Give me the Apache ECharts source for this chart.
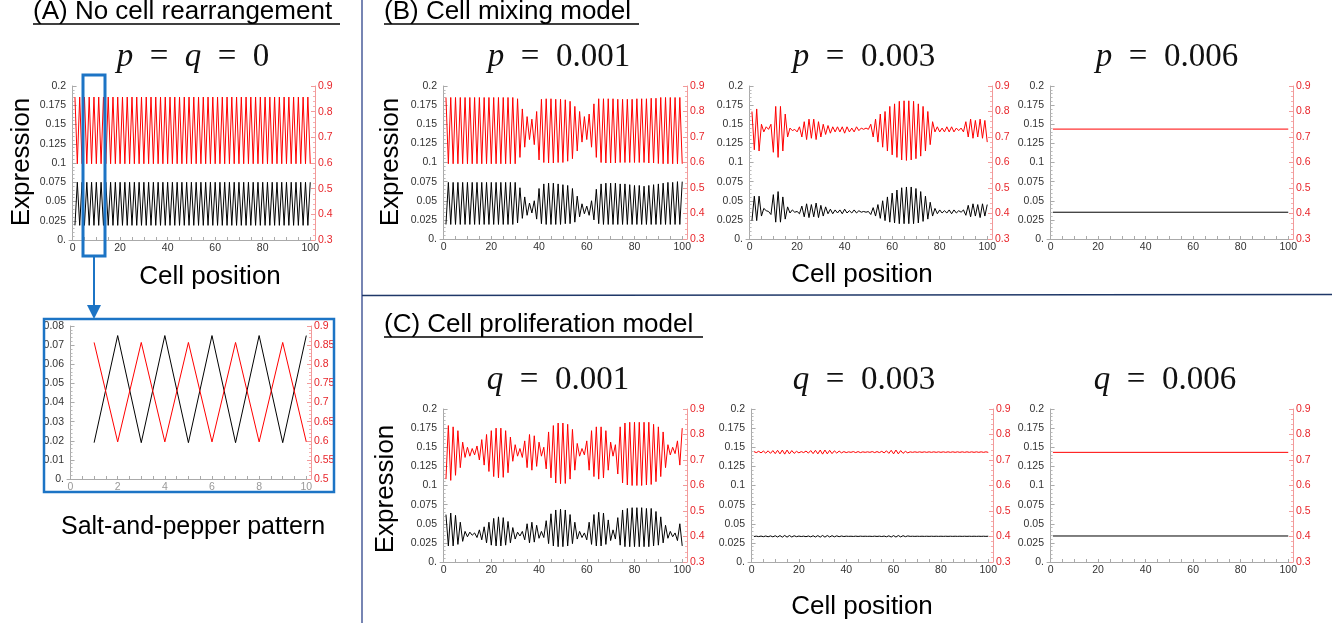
<!DOCTYPE html>
<html>
<head>
<meta charset="utf-8">
<script src="https://cdn.jsdelivr.net/npm/echarts@6/dist/echarts.min.js"></script>
<style>
  html, body { margin: 0; padding: 0; background: #fff; }
  #chart { width: 1342px; height: 623px; }
</style>
</head>
<body>
<div id="chart"></div>
<script>
// tick labels
const cellTicks = [0, 20, 40, 60, 80, 100]
const cellMinorTicks = [0, 5, 10, 15, 20, 25, 30, 35, 40, 45, 50, 55, 60, 65, 70, 75, 80, 85, 90, 95, 100]
const zoomCellTicks = [0, 2, 4, 6, 8, 10]
const zoomCellMinorTicks = [0, 0.5, 1, 1.5, 2, 2.5, 3, 3.5, 4, 4.5, 5, 5.5, 6, 6.5, 7, 7.5, 8, 8.5, 9, 9.5, 10]
const blackTicks = [0, 0.025, 0.05, 0.075, 0.1, 0.125, 0.15, 0.175, 0.2]
const redTicks = [0.3, 0.4, 0.5, 0.6, 0.7, 0.8, 0.9]
const zoomBlackTicks = [0, 0.01, 0.02, 0.03, 0.04, 0.05, 0.06, 0.07, 0.08]
const zoomRedTicks = [0.5, 0.55, 0.6, 0.65, 0.7, 0.75, 0.8, 0.85, 0.9]

// (A) no rearrangement, cells 1..100
const noRearrBlack = [
  0.019, 0.075, 0.019, 0.075, 0.019, 0.075, 0.019, 0.075, 0.019, 0.075,
  0.019, 0.075, 0.019, 0.075, 0.019, 0.075, 0.019, 0.075, 0.019, 0.075,
  0.019, 0.075, 0.019, 0.075, 0.019, 0.075, 0.019, 0.075, 0.019, 0.075,
  0.019, 0.075, 0.019, 0.075, 0.019, 0.075, 0.019, 0.075, 0.019, 0.075,
  0.019, 0.075, 0.019, 0.075, 0.019, 0.075, 0.019, 0.075, 0.019, 0.075,
  0.019, 0.075, 0.019, 0.075, 0.019, 0.075, 0.019, 0.075, 0.019, 0.075,
  0.019, 0.075, 0.019, 0.075, 0.019, 0.075, 0.019, 0.075, 0.019, 0.075,
  0.019, 0.075, 0.019, 0.075, 0.019, 0.075, 0.019, 0.075, 0.019, 0.075,
  0.019, 0.075, 0.019, 0.075, 0.019, 0.075, 0.019, 0.075, 0.019, 0.075,
  0.019, 0.075, 0.019, 0.075, 0.019, 0.075, 0.019, 0.075, 0.019, 0.075
]
const noRearrRed = [
  0.857, 0.597, 0.857, 0.597, 0.857, 0.597, 0.857, 0.597, 0.857, 0.597,
  0.857, 0.597, 0.857, 0.597, 0.857, 0.597, 0.857, 0.597, 0.857, 0.597,
  0.857, 0.597, 0.857, 0.597, 0.857, 0.597, 0.857, 0.597, 0.857, 0.597,
  0.857, 0.597, 0.857, 0.597, 0.857, 0.597, 0.857, 0.597, 0.857, 0.597,
  0.857, 0.597, 0.857, 0.597, 0.857, 0.597, 0.857, 0.597, 0.857, 0.597,
  0.857, 0.597, 0.857, 0.597, 0.857, 0.597, 0.857, 0.597, 0.857, 0.597,
  0.857, 0.597, 0.857, 0.597, 0.857, 0.597, 0.857, 0.597, 0.857, 0.597,
  0.857, 0.597, 0.857, 0.597, 0.857, 0.597, 0.857, 0.597, 0.857, 0.597,
  0.857, 0.597, 0.857, 0.597, 0.857, 0.597, 0.857, 0.597, 0.857, 0.597,
  0.857, 0.597, 0.857, 0.597, 0.857, 0.597, 0.857, 0.597, 0.857, 0.597
]

// (B) cell mixing
const mixP001Black = [
  0.019, 0.074, 0.019, 0.074, 0.019, 0.074, 0.019, 0.074, 0.019, 0.074,
  0.019, 0.074, 0.019, 0.074, 0.019, 0.074, 0.019, 0.074, 0.019, 0.074,
  0.019, 0.074, 0.019, 0.074, 0.019, 0.074, 0.019, 0.074, 0.019, 0.074,
  0.021, 0.067, 0.027, 0.055, 0.031, 0.047, 0.034, 0.05, 0.026, 0.066,
  0.02, 0.072, 0.019, 0.073, 0.019, 0.073, 0.019, 0.072, 0.019, 0.071,
  0.02, 0.07, 0.02, 0.066, 0.022, 0.056, 0.029, 0.046, 0.033, 0.043,
  0.031, 0.05, 0.025, 0.065, 0.02, 0.072, 0.019, 0.073, 0.019, 0.073,
  0.019, 0.073, 0.019, 0.072, 0.019, 0.072, 0.019, 0.071, 0.019, 0.07,
  0.019, 0.07, 0.019, 0.069, 0.019, 0.07, 0.019, 0.071, 0.019, 0.072,
  0.019, 0.073, 0.019, 0.074, 0.019, 0.074, 0.019, 0.075, 0.019, 0.075
]
const mixP001Red = [
  0.855, 0.595, 0.855, 0.595, 0.855, 0.595, 0.855, 0.595, 0.855, 0.595,
  0.855, 0.595, 0.855, 0.595, 0.855, 0.595, 0.855, 0.595, 0.855, 0.595,
  0.855, 0.595, 0.855, 0.595, 0.855, 0.595, 0.855, 0.595, 0.855, 0.595,
  0.85, 0.62, 0.81, 0.66, 0.78, 0.69, 0.77, 0.67, 0.8, 0.61,
  0.848, 0.6, 0.85, 0.598, 0.85, 0.598, 0.848, 0.6, 0.848, 0.6,
  0.846, 0.605, 0.84, 0.615, 0.82, 0.645, 0.8, 0.68, 0.78, 0.69,
  0.79, 0.66, 0.83, 0.62, 0.85, 0.6, 0.85, 0.598, 0.85, 0.598,
  0.85, 0.598, 0.848, 0.6, 0.848, 0.6, 0.848, 0.6, 0.848, 0.6,
  0.85, 0.6, 0.85, 0.6, 0.85, 0.598, 0.852, 0.598, 0.852, 0.596,
  0.855, 0.595, 0.855, 0.595, 0.855, 0.595, 0.855, 0.595, 0.855, 0.595
]
const mixP003Black = [
  0.024, 0.056, 0.024, 0.056, 0.03, 0.04, 0.037, 0.036, 0.032, 0.058,
  0.022, 0.062, 0.022, 0.055, 0.026, 0.042, 0.034, 0.038, 0.035, 0.036,
  0.033, 0.043, 0.029, 0.046, 0.028, 0.045, 0.029, 0.047, 0.028, 0.044,
  0.03, 0.042, 0.033, 0.039, 0.033, 0.038, 0.034, 0.038, 0.033, 0.039,
  0.034, 0.037, 0.034, 0.038, 0.034, 0.037, 0.035, 0.036, 0.035, 0.036,
  0.032, 0.041, 0.03, 0.045, 0.027, 0.05, 0.024, 0.055, 0.022, 0.06,
  0.021, 0.064, 0.02, 0.067, 0.02, 0.068, 0.02, 0.068, 0.02, 0.066,
  0.021, 0.062, 0.023, 0.056, 0.026, 0.048, 0.03, 0.04, 0.033, 0.038,
  0.034, 0.037, 0.034, 0.038, 0.033, 0.038, 0.034, 0.037, 0.035, 0.038,
  0.031, 0.044, 0.029, 0.046, 0.03, 0.045, 0.028, 0.046, 0.03, 0.045
]
const mixP003Red = [
  0.8, 0.65, 0.81, 0.645, 0.75, 0.72, 0.74, 0.73, 0.75, 0.64,
  0.82, 0.62, 0.82, 0.645, 0.79, 0.7, 0.735, 0.725, 0.73, 0.72,
  0.74, 0.7, 0.76, 0.69, 0.77, 0.695, 0.77, 0.69, 0.76, 0.7,
  0.75, 0.71, 0.745, 0.715, 0.74, 0.72, 0.74, 0.72, 0.74, 0.715,
  0.74, 0.72, 0.735, 0.72, 0.74, 0.725, 0.735, 0.73, 0.735, 0.73,
  0.75, 0.7, 0.77, 0.68, 0.79, 0.66, 0.8, 0.645, 0.82, 0.63,
  0.83, 0.62, 0.84, 0.61, 0.842, 0.608, 0.842, 0.61, 0.84, 0.615,
  0.83, 0.625, 0.82, 0.645, 0.8, 0.67, 0.76, 0.72, 0.74, 0.72,
  0.735, 0.72, 0.74, 0.72, 0.74, 0.72, 0.735, 0.725, 0.735, 0.72,
  0.76, 0.7, 0.77, 0.695, 0.765, 0.7, 0.77, 0.695, 0.765, 0.68
]
const mixP006Black = [[1, 0.035], [100, 0.035]]
const mixP006Red = [[1, 0.731], [100, 0.731]]

// (C) cell proliferation
const prolQ001Black = [
  0.062, 0.021, 0.064, 0.021, 0.061, 0.023, 0.052, 0.027, 0.04, 0.033,
  0.039, 0.035, 0.038, 0.032, 0.042, 0.029, 0.046, 0.025, 0.052, 0.022,
  0.057, 0.021, 0.059, 0.021, 0.058, 0.022, 0.053, 0.025, 0.045, 0.03,
  0.039, 0.034, 0.04, 0.029, 0.05, 0.025, 0.052, 0.026, 0.048, 0.031,
  0.04, 0.032, 0.054, 0.024, 0.063, 0.021, 0.068, 0.02, 0.069, 0.02,
  0.068, 0.021, 0.062, 0.024, 0.052, 0.03, 0.04, 0.032, 0.038, 0.029,
  0.052, 0.023, 0.062, 0.021, 0.065, 0.021, 0.064, 0.023, 0.055, 0.028,
  0.042, 0.03, 0.058, 0.022, 0.068, 0.02, 0.07, 0.02, 0.071, 0.02,
  0.071, 0.02, 0.071, 0.02, 0.07, 0.02, 0.07, 0.021, 0.066, 0.022,
  0.059, 0.025, 0.048, 0.031, 0.04, 0.033, 0.038, 0.028, 0.05, 0.021
]
const prolQ001Red = [
  0.625, 0.835, 0.62, 0.83, 0.64, 0.815, 0.67, 0.77, 0.71, 0.75,
  0.715, 0.745, 0.72, 0.755, 0.7, 0.78, 0.68, 0.8, 0.655, 0.815,
  0.635, 0.825, 0.63, 0.825, 0.632, 0.815, 0.65, 0.79, 0.695, 0.76,
  0.715, 0.745, 0.71, 0.775, 0.67, 0.8, 0.66, 0.795, 0.675, 0.77,
  0.715, 0.75, 0.665, 0.81, 0.63, 0.835, 0.61, 0.845, 0.607, 0.845,
  0.608, 0.84, 0.625, 0.82, 0.66, 0.765, 0.715, 0.745, 0.72, 0.775,
  0.66, 0.815, 0.635, 0.83, 0.625, 0.83, 0.63, 0.815, 0.66, 0.77,
  0.715, 0.76, 0.645, 0.83, 0.61, 0.845, 0.602, 0.848, 0.6, 0.848,
  0.6, 0.848, 0.6, 0.848, 0.602, 0.848, 0.604, 0.84, 0.615, 0.83,
  0.635, 0.81, 0.67, 0.76, 0.72, 0.75, 0.725, 0.775, 0.68, 0.825
]
const prolQ003Black = [
  0.0333, 0.0338, 0.0332, 0.0339, 0.0331, 0.034, 0.033, 0.0341, 0.0329, 0.0343,
  0.0327, 0.0345, 0.0325, 0.0347, 0.0325, 0.0346, 0.0327, 0.0343, 0.0331, 0.0339,
  0.0333, 0.0338, 0.0331, 0.034, 0.0329, 0.0343, 0.0327, 0.0345, 0.0325, 0.0347,
  0.0325, 0.0346, 0.0327, 0.0344, 0.0329, 0.0342, 0.0331, 0.034, 0.0333, 0.0338,
  0.0335, 0.0337, 0.0334, 0.0338, 0.0334, 0.0338, 0.0335, 0.0337, 0.0335, 0.0337,
  0.0334, 0.0338, 0.0334, 0.0338, 0.0333, 0.0339, 0.033, 0.0342, 0.0327, 0.0345,
  0.0326, 0.0346, 0.0328, 0.0344, 0.0331, 0.0341, 0.0335, 0.0337, 0.0335, 0.0337,
  0.0335, 0.0337, 0.0335, 0.0337, 0.0335, 0.0337, 0.0335, 0.0337, 0.0335, 0.0337,
  0.0335, 0.0337, 0.0335, 0.0337, 0.0335, 0.0337, 0.0335, 0.0337, 0.0335, 0.0337,
  0.0335, 0.0337, 0.0335, 0.0337, 0.0335, 0.0337, 0.0335, 0.0337, 0.0335, 0.0337
]
const prolQ003Red = [
  0.733, 0.729, 0.734, 0.728, 0.735, 0.727, 0.736, 0.726, 0.737, 0.725,
  0.738, 0.724, 0.739, 0.723, 0.739, 0.724, 0.737, 0.726, 0.734, 0.728,
  0.733, 0.729, 0.735, 0.727, 0.737, 0.725, 0.738, 0.724, 0.739, 0.723,
  0.739, 0.724, 0.738, 0.725, 0.736, 0.727, 0.735, 0.728, 0.733, 0.729,
  0.732, 0.73, 0.733, 0.729, 0.733, 0.729, 0.732, 0.73, 0.732, 0.73,
  0.733, 0.729, 0.733, 0.729, 0.734, 0.728, 0.736, 0.726, 0.738, 0.724,
  0.739, 0.724, 0.737, 0.726, 0.734, 0.728, 0.732, 0.73, 0.732, 0.73,
  0.732, 0.73, 0.732, 0.73, 0.732, 0.73, 0.732, 0.73, 0.732, 0.73,
  0.732, 0.73, 0.732, 0.73, 0.732, 0.73, 0.732, 0.73, 0.732, 0.73,
  0.732, 0.73, 0.732, 0.73, 0.732, 0.73, 0.732, 0.73, 0.732, 0.73
]
const prolQ006Black = [[1, 0.034], [100, 0.034]]
const prolQ006Red = [[1, 0.73], [100, 0.73]]

const BLUE = '#1c74c5'
const RED = '#ff0000'
const RED_LABEL = '#e8262b'
const SANS = '"Liberation Sans", Arial, sans-serif'
const SERIF = '"Liberation Serif", "DejaVu Serif", serif'

// cell index -> [position, value]
const toPoints = arr => Array.isArray(arr[0]) ? arr : arr.map((v, i) => [i + 1, v])
const fmt = v => v === 0 ? '0.' : String(+v.toFixed(4))

const panels = [
  { box: [69, 86, 246, 154], x: [-1.5, 102], xt: cellTicks, xm: cellMinorTicks, yl: blackTicks, yr: redTicks, black: noRearrBlack, red: noRearrRed },
  { box: [67, 326, 244, 153], x: [-0.15, 10.2], xt: zoomCellTicks, xm: zoomCellMinorTicks, yl: zoomBlackTicks, yr: zoomRedTicks,
    black: noRearrBlack.slice(0, 10), red: noRearrRed.slice(0, 10), xColor: '#999' },
  { box: [440, 86, 247, 153], x: [-1.5, 102], xt: cellTicks, xm: cellMinorTicks, yl: blackTicks, yr: redTicks, black: mixP001Black, red: mixP001Red },
  { box: [746, 86, 246, 153], x: [-1.5, 102], xt: cellTicks, xm: cellMinorTicks, yl: blackTicks, yr: redTicks, black: mixP003Black, red: mixP003Red },
  { box: [1047, 86, 246, 153], x: [-1.5, 102], xt: cellTicks, xm: cellMinorTicks, yl: blackTicks, yr: redTicks, black: mixP006Black, red: mixP006Red },
  { box: [440, 409, 247, 153], x: [-1.5, 102], xt: cellTicks, xm: cellMinorTicks, yl: blackTicks, yr: redTicks, black: prolQ001Black, red: prolQ001Red },
  { box: [748, 409, 245, 153], x: [-1.5, 102], xt: cellTicks, xm: cellMinorTicks, yl: blackTicks, yr: redTicks, black: prolQ003Black, red: prolQ003Red },
  { box: [1047, 409, 246, 153], x: [-1.5, 102], xt: cellTicks, xm: cellMinorTicks, yl: blackTicks, yr: redTicks, black: prolQ006Black, red: prolQ006Red }
]

const grid = []
const xAxis = []
const yAxis = []
const series = []

const yAxisFor = (gi, ticks, side) => ({
  gridIndex: gi,
  type: 'value',
  position: side,
  min: ticks[0],
  max: ticks[ticks.length - 1],
  interval: +(ticks[1] - ticks[0]).toFixed(4),
  axisLine: { show: true, lineStyle: { color: side === 'left' ? '#aaa' : '#f29a9a', width: 1 } },
  axisTick: { show: true, inside: true, length: 4, lineStyle: { color: side === 'left' ? '#aaa' : '#f29a9a' } },
  minorTick: { show: true, splitNumber: 5, length: 2, lineStyle: { color: side === 'left' ? '#bbb' : '#f5b0b0' } },
  axisLabel: {
    fontSize: 10.5, fontFamily: SANS, margin: 3,
    color: side === 'left' ? '#333' : RED_LABEL,
    formatter: fmt
  },
  splitLine: { show: false }
})

panels.forEach((p, gi) => {
  grid.push({ left: p.box[0], top: p.box[1], width: p.box[2], height: p.box[3], containLabel: false })
  xAxis.push({
    gridIndex: gi,
    type: 'value',
    min: p.x[0],
    max: p.x[1],
    axisLine: { show: true, lineStyle: { color: '#aaa', width: 1 } },
    axisTick: { show: true, inside: true, length: 3, customValues: p.xm, lineStyle: { color: '#aaa' } },
    axisLabel: { customValues: p.xt, fontSize: 10.5, fontFamily: SANS, color: p.xColor || '#333', margin: 3, formatter: v => String(v) },
    splitLine: { show: false }
  })
  yAxis.push(yAxisFor(gi, p.yl, 'left'))
  yAxis.push(yAxisFor(gi, p.yr, 'right'))
  series.push({
    type: 'line', xAxisIndex: gi, yAxisIndex: gi * 2, data: toPoints(p.black),
    showSymbol: false, symbol: 'none', lineStyle: { color: '#000', width: 1 }, silent: true
  })
  series.push({
    type: 'line', xAxisIndex: gi, yAxisIndex: gi * 2 + 1, data: toPoints(p.red),
    showSymbol: false, symbol: 'none', lineStyle: { color: RED, width: 1 }, silent: true
  })
})

const mathRich = { i: { fontStyle: 'italic', fontFamily: SERIF, fontSize: 33, fill: '#111' } }
const text = (x, y, str, size, extra) => ({
  type: 'text', x, y, z: 100,
  style: Object.assign({
    text: str, fontSize: size, fontFamily: SANS, fill: '#000',
    textAlign: 'center', textVerticalAlign: 'middle', align: 'center', verticalAlign: 'middle'
  }, extra || {})
})
const mathText = (x, y, str) => text(x, y, str, 33, { fontFamily: SERIF, fill: '#111', rich: mathRich })
const heading = (x, y, str, w) => [
  text(x, y, str, 26, { textAlign: 'left', align: 'left' }),
  { type: 'line', z: 100, shape: { x1: x, y1: y + 12, x2: x + w, y2: y + 12 }, style: { stroke: '#000', lineWidth: 1.3 } }
]
const vText = (x, y, str) => Object.assign(text(x, y, str, 26), { rotation: Math.PI / 2 })

const graphic = [
  { type: 'line', z: 100, shape: { x1: 362, y1: 0, x2: 362, y2: 623 }, style: { stroke: '#4a5d9a', lineWidth: 1.5 } },
  { type: 'line', z: 100, shape: { x1: 362, y1: 295.5, x2: 1332, y2: 294.5 }, style: { stroke: '#1f3868', lineWidth: 1.5 } },
  ...heading(33, 12, '(A) No cell rearrangement', 307),
  ...heading(384, 12, '(B) Cell mixing model', 255),
  ...heading(384, 325, '(C) Cell proliferation model', 319),
  mathText(193, 57, '{i|p}\u2002=\u2002{i|q}\u2002=\u20020'),
  mathText(559, 57, '{i|p}\u2002=\u20020.001'),
  mathText(864, 57, '{i|p}\u2002=\u20020.003'),
  mathText(1167, 57, '{i|p}\u2002=\u20020.006'),
  mathText(558, 380, '{i|q}\u2002=\u20020.001'),
  mathText(864, 380, '{i|q}\u2002=\u20020.003'),
  mathText(1165, 380, '{i|q}\u2002=\u20020.006'),
  vText(22, 162, 'Expression'),
  vText(391, 162, 'Expression'),
  vText(386, 489, 'Expression'),
  text(210, 277, 'Cell position', 26),
  text(862, 275, 'Cell position', 26),
  text(862, 607, 'Cell position', 26),
  text(193, 527, 'Salt-and-pepper pattern', 25),
  { type: 'rect', z: 100, shape: { x: 83, y: 75, width: 22, height: 181 }, style: { fill: 'none', stroke: BLUE, lineWidth: 3 } },
  { type: 'line', z: 100, shape: { x1: 94, y1: 256, x2: 94, y2: 306 }, style: { stroke: BLUE, lineWidth: 2 } },
  { type: 'polygon', z: 100, shape: { points: [[87, 305], [101, 305], [94, 319]] }, style: { fill: BLUE } },
  { type: 'rect', z: 100, shape: { x: 44, y: 319, width: 290, height: 173 }, style: { fill: 'none', stroke: BLUE, lineWidth: 2.5 } }
]

const chart = echarts.init(document.getElementById('chart'), null, { renderer: 'canvas' })
chart.setOption({
  animation: false,
  backgroundColor: '#fff',
  grid,
  xAxis,
  yAxis,
  series,
  graphic
})
window.addEventListener('resize', () => chart.resize())
</script>
</body>
</html>
